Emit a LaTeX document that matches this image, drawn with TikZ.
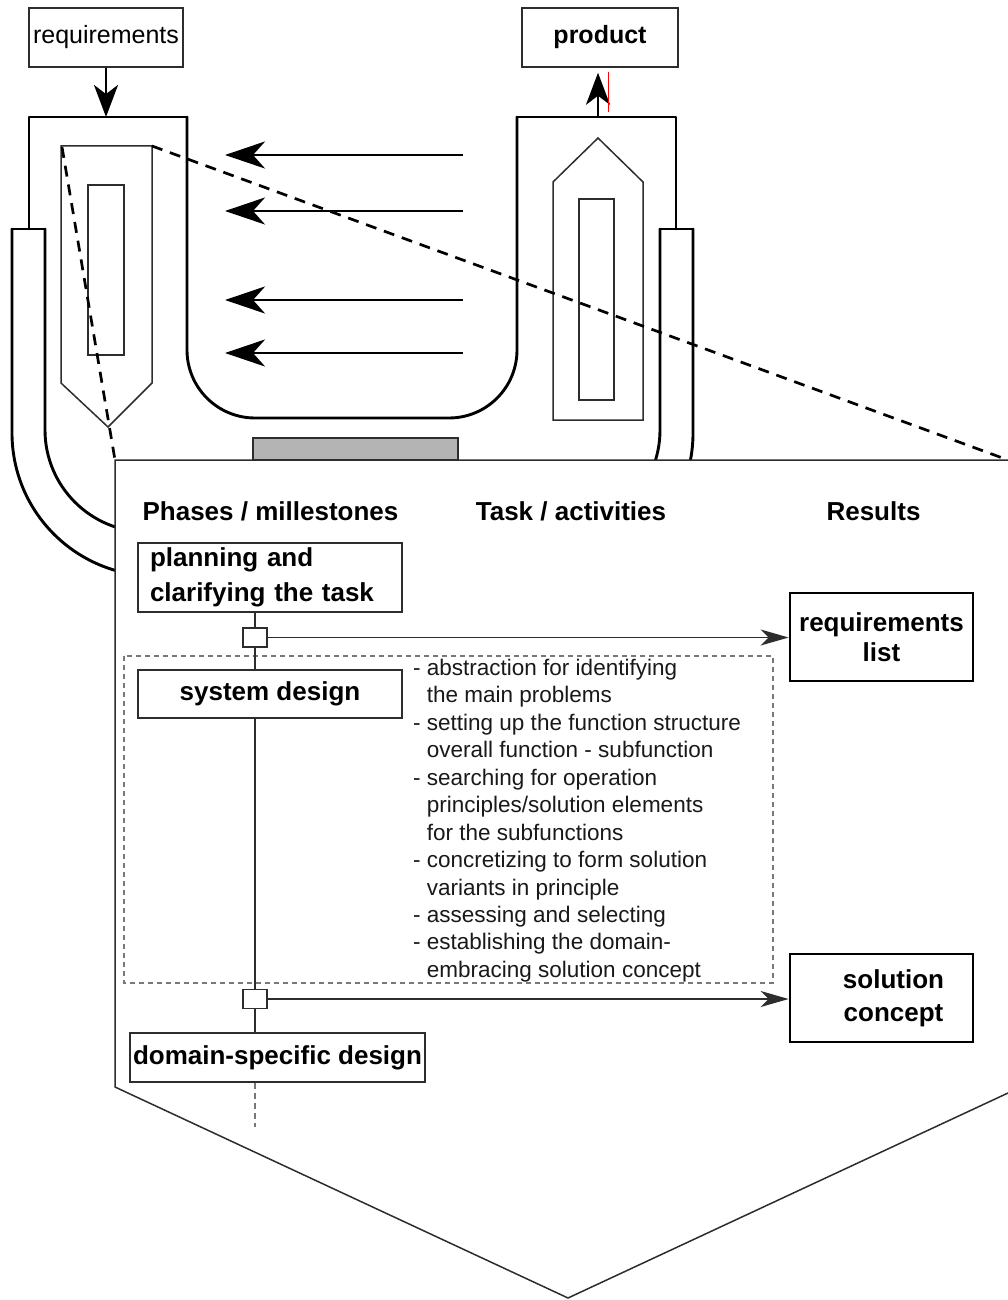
\documentclass[tikz,border=0pt]{standalone}
\usepackage{fontspec}
\setmainfont{Liberation Sans}
\usetikzlibrary{arrows.meta}
\definecolor{ink}{RGB}{45,45,45}
\definecolor{barfill}{RGB}{180,180,180}
\definecolor{dashgray}{RGB}{120,120,120}
\tikzset{
  heavy/.style={line width=2.9pt, black, line cap=round, line join=round},
  fine/.style={line width=1.5pt, ink},
  bigarrow/.style={line width=2.9pt, black, -{Stealth[length=40pt,width=27pt,inset=12pt]}},
  toparrow/.style={line width=2.9pt, black, -{Stealth[length=32pt,width=24pt,inset=9pt]}},
  resarrow/.style={line width=1.9pt, ink, -{Stealth[length=28pt,width=16pt,inset=8pt]}},
  zoomline/.style={line width=2.7pt, black, dash pattern=on 11pt off 8pt},
  phasebox/.style={draw=ink, line width=1.6pt, fill=white, inner sep=0pt,
    font=\fontsize{26}{35}\selectfont\bfseries},
  resultbox/.style={draw=black, line width=2.8pt, fill=white, inner sep=0pt,
    minimum width=183pt, minimum height=88pt, align=center},
  milestone/.style={draw=ink, line width=1.5pt, fill=white, inner sep=0pt,
    minimum width=24pt, minimum height=19pt},
  header/.style={anchor=base, inner sep=0pt, font=\fontsize{26}{30}\selectfont\bfseries},
  topbox/.style={draw=ink, line width=1.5pt, inner sep=0pt,
    minimum height=59pt, font=\fontsize{25}{30}\selectfont}
}
\begin{document}
\begin{tikzpicture}[x=1pt, y=-1pt]
\useasboundingbox (0,0) rectangle (1008,1300);

% input and output boxes
\node[topbox, minimum width=154pt] (req) at (106,37.5) {requirements};
\node[topbox, minimum width=156pt, font=\fontsize{25}{30}\selectfont\bfseries] (prod) at (600,37.5) {product};

% outer U-shaped vessel
\draw[heavy, rounded corners=143pt] (12,229) -- (12,576) -- (693,576) -- (693,229);
\draw[heavy, rounded corners=102pt] (45,229) -- (45,532) -- (660,532) -- (660,229);
\draw[heavy] (12,229) -- (45,229);
\draw[heavy] (660,229) -- (693,229);

% inner cup
\draw[heavy] (29,229) -- (29,117) -- (187,117);
\draw[heavy, rounded corners=68pt] (187,117) -- (187,418) -- (517,418) -- (517,117);
\draw[heavy] (517,117) -- (676,117) -- (676,229);

% down-pointing element (left) and up-pointing element (right)
\draw[fine] (61,146) -- (152,146) -- (152,383) -- (108,427) -- (61,383) -- cycle;
\draw[fine] (88,185) rectangle (124,355);
\draw[fine] (553,420) -- (643,420) -- (643,182) -- (598,138) -- (553,182) -- cycle;
\draw[fine] (579,199) rectangle (614,400);

% flow arrows
\coordinate (inTop) at (106,117);
\coordinate (outTop) at (598,117);
\draw[toparrow] (req.south) -- (inTop);
\draw[toparrow, shorten >=5pt] (outTop) -- (outTop |- prod.south);
\draw[red, line width=0.8pt] (608,72) -- (608,112);

\foreach \y/\n in {155/a, 211/b, 300/c, 353/d} {
  \coordinate (\n s) at (463,\y);
  \coordinate (\n e) at (225,\y);
  \draw[bigarrow] (\n s) -- (\n e);
}

% detail panel outline corners
\coordinate (pTL) at (115,460);
\coordinate (pTR) at (1008,460);
\coordinate (pBL) at (115,1087);
\coordinate (pTip) at (568,1298);
\coordinate (pBR) at (1008,1093);
\coordinate (eTL) at (62,147);
\coordinate (eTR) at (152,146);

% magnification lines
\draw[zoomline] (eTL) -- (pTL);
\draw[zoomline] (eTR) -- (pTR);

% detail panel
\fill[white] (pTL) -- (pTR) -- (pBR) -- (pTip) -- (pBL) -- cycle;
\draw[fine, line join=miter] (pTR) -- (pTL) -- (pBL) -- (pTip) -- (pBR);
\draw[fine, fill=barfill] (253,438) rectangle (458,460);

% column headings
\node[header] (hPh) at (270.5,520) {Phases / millestones};
\node[header] (hTask) at (571,520) {Task / activities};
\node[header] (hRes) at (873.5,520) {Results};

% phase boxes
\node[phasebox, minimum width=264pt, minimum height=69pt, text width=240pt, align=left] (plan) at (270,577.5)
  {planning and\\clarifying the task};
\node[phasebox, minimum width=264pt, minimum height=48pt] (sys) at (270,694) {system design};
\node[phasebox, minimum width=295pt, minimum height=49pt] (dom) at (277.5,1057.5) {domain-specific design};

% system design activities frame
\draw[dashgray, line width=1.2pt, dash pattern=on 5pt off 4pt] (124,656) rectangle (773,983);

% milestones
\node[milestone] (sq1) at (255,637.5) {};
\node[milestone] (sq2) at (255,999) {};

% results
\node[resultbox, font=\fontsize{26}{30}\selectfont\bfseries] (rlist) at (881.5,637) {requirements\\list};
\node[resultbox, font=\fontsize{26}{33}\selectfont\bfseries] (sol) at (881.5,998) {\hspace*{24pt}solution\\\hspace*{24pt}concept};

% activities
\node[anchor=north west, inner sep=0pt, text=black!90, font=\fontsize{22.5}{27.45}\selectfont] (tasks) at (413,656)
{\begin{tabular}{@{}l@{}}
- abstraction for identifying\\
\phantom{- }the main problems\\
- setting up the function structure\\
\phantom{- }overall function - subfunction\\
- searching for operation\\
\phantom{- }principles/solution elements\\
\phantom{- }for the subfunctions\\
- concretizing to form solution\\
\phantom{- }variants in principle\\
- assessing and selecting\\
- establishing the domain-\\
\phantom{- }embracing solution concept
\end{tabular}};

% process line
\coordinate (tail) at (255,1127);
\draw[fine] (sq1.north) -- (sq1.north |- plan.south);
\draw[fine] (sq1.south) -- (sq1.south |- sys.north);
\draw[fine] (sq2.north) -- (sq2.north |- sys.south);
\draw[fine] (sq2.south) -- (sq2.south |- dom.north);
\draw[dashgray, line width=1.5pt, dash pattern=on 6pt off 4pt] (tail |- dom.south) -- (tail);
\draw[resarrow] (sq1.east) -- (sq1.east -| rlist.west);
\draw[resarrow] (sq2.east) -- (sq2.east -| sol.west);
\end{tikzpicture}
\end{document}
